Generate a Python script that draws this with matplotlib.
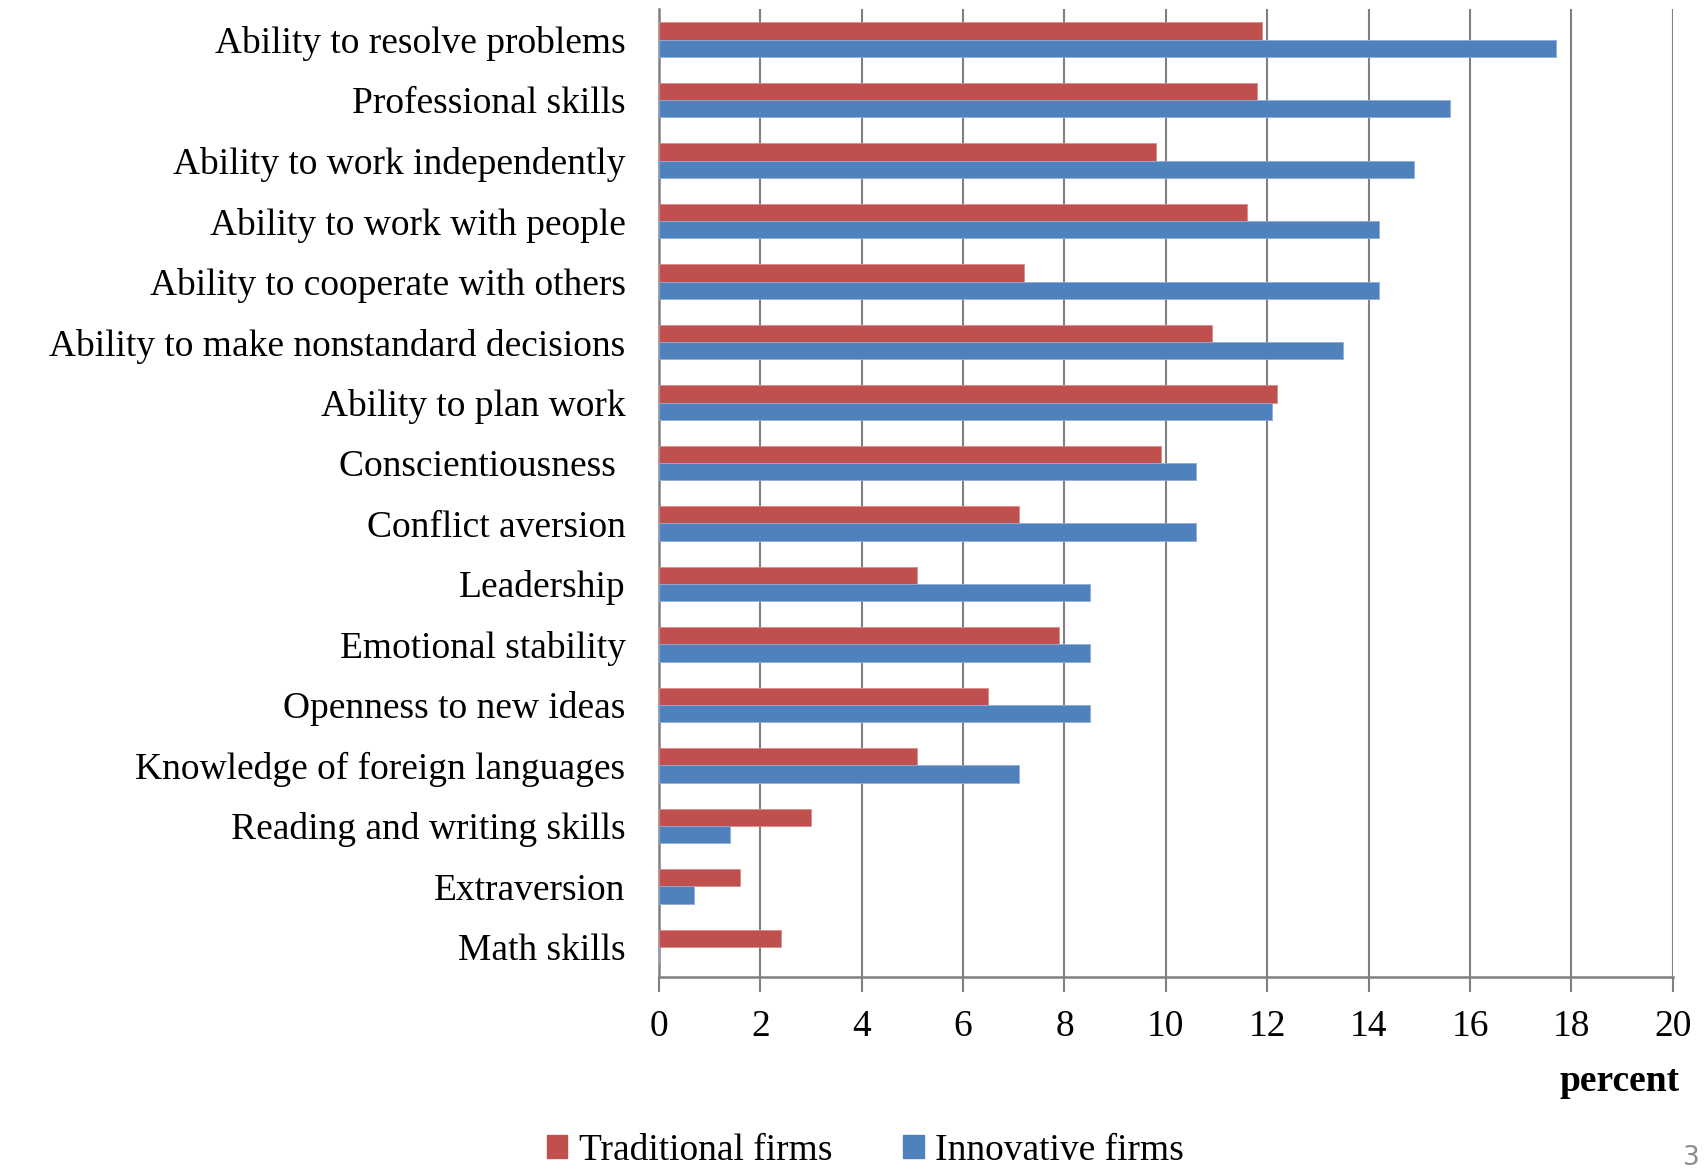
import numpy as np
import matplotlib
matplotlib.use('Agg')
import matplotlib.pyplot as plt
from matplotlib.patches import Patch

# Skills demanded by firms, share of answers (percent)
skills = [
    "Ability to resolve problems",
    "Professional skills",
    "Ability to work independently",
    "Ability to work with people",
    "Ability to cooperate with others",
    "Ability to make nonstandard decisions",
    "Ability to plan work",
    "Conscientiousness ",
    "Conflict aversion",
    "Leadership",
    "Emotional stability",
    "Openness to new ideas",
    "Knowledge of foreign languages",
    "Reading and writing skills",
    "Extraversion",
    "Math skills",
]
traditional = [11.9, 11.8, 9.8, 11.6, 7.2, 10.9, 12.2, 9.9, 7.1, 5.1, 7.9, 6.5, 5.1, 3.0, 1.6, 2.4]
innovative = [17.7, 15.6, 14.9, 14.2, 14.2, 13.5, 12.1, 10.6, 10.6, 8.5, 8.5, 8.5, 7.1, 1.4, 0.7, 0.0]
x_ticks = [0, 2, 4, 6, 8, 10, 12, 14, 16, 18, 20]

RED = "#C0504D"
BLUE = "#4F81BD"
GRID = "#808080"
FS = 27

plt.rcParams['font.family'] = ['Liberation Serif', 'DejaVu Serif']

fig = plt.figure(figsize=(17.07, 11.73), dpi=100)
ax = fig.add_axes([0.386, 0.167, 0.594, 0.825])

y = np.arange(len(skills))
h = 1 / 3.5
ax.barh(y - h / 2, traditional, height=h, color=RED, edgecolor="#d98c8a", linewidth=0.6, zorder=3)
ax.barh(y + h / 2, innovative, height=h, color=BLUE, edgecolor="#93acd4", linewidth=0.6, zorder=3)

ax.set_ylim(len(skills) - 0.5, -0.5)
ax.set_xlim(0, 20)
ax.set_yticks(y)
ax.set_yticklabels(skills, fontsize=FS)
ax.tick_params(axis='y', length=0, pad=24)
ax.set_xticks(x_ticks)
ax.set_xticklabels([str(t) for t in x_ticks], fontsize=FS)
ax.tick_params(axis='x', length=11, width=1.5, color=GRID, pad=12)

ax.grid(axis='x', color=GRID, linewidth=1.5, zorder=0)
for side in ['top', 'right']:
    ax.spines[side].set_visible(False)
for side in ['left', 'bottom']:
    ax.spines[side].set_color(GRID)
    ax.spines[side].set_linewidth(1.8)

fig.text(0.984, 0.078, "percent", ha='right', va='center', fontsize=FS, fontweight='bold')

handles = [Patch(color=RED, label="Traditional firms"), Patch(color=BLUE, label="Innovative firms")]
fig.legend(handles=handles, loc='center', bbox_to_anchor=(0.507, 0.019), ncol=2, frameon=False,
           fontsize=FS, handlelength=0.55, handleheight=0.55, handletextpad=0.3, columnspacing=1.9,
           borderpad=0.1)

fig.text(0.996, 0.002, "3", ha='right', va='bottom', fontsize=19, color='#8c8c8c', family='DejaVu Sans')

fig.savefig("out.png", dpi=100)
